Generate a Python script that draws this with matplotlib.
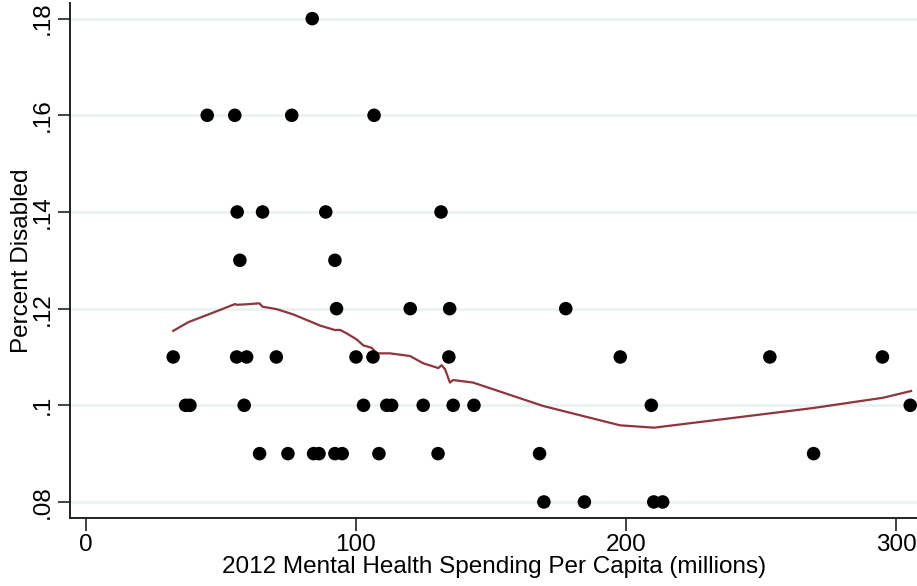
import matplotlib
matplotlib.use("Agg")
import matplotlib.pyplot as plt

plt.rcParams['font.family'] = ['Liberation Sans', 'DejaVu Sans']

# State-level observations: mental health spending per capita vs. share disabled
spending = [83.8,
            44.9, 55.1, 76.2, 106.7,
            56.0, 65.4, 88.8, 131.5,
            57.0, 92.2,
            92.8, 120.1, 134.7, 177.7,
            32.3, 55.8, 59.5, 70.5, 100.0, 106.3, 134.4, 197.9, 253.3, 295.0,
            36.9, 38.5, 58.6, 102.8, 111.4, 113.2, 124.9, 136.0, 143.7, 209.4, 305.3,
            64.3, 74.8, 84.3, 86.3, 92.2, 94.9, 108.5, 130.4, 168.0, 269.5,
            169.6, 184.6, 210.3, 213.6]
disabled = [0.18,
            0.16, 0.16, 0.16, 0.16,
            0.14, 0.14, 0.14, 0.14,
            0.13, 0.13,
            0.12, 0.12, 0.12, 0.12,
            0.11, 0.11, 0.11, 0.11, 0.11, 0.11, 0.11, 0.11, 0.11, 0.11,
            0.10, 0.10, 0.10, 0.10, 0.10, 0.10, 0.10, 0.10, 0.10, 0.10, 0.10,
            0.09, 0.09, 0.09, 0.09, 0.09, 0.09, 0.09, 0.09, 0.09, 0.09,
            0.08, 0.08, 0.08, 0.08]

# Lowess smooth of disabled share on spending
smooth_x = [32.3, 37.9, 47.2, 55.2, 55.9, 59.5, 64.2, 65.4, 70.6, 76.8, 86.7,
            92.2, 94.1, 96.5, 100.2, 102.7, 105.8, 107.7, 112.6, 120.0,
            124.9, 130.5, 131.7, 133.0, 134.8, 136.0, 143.4, 169.4, 197.8,
            210.4, 269.4, 295.3, 305.6]
smooth_y = [0.1154, 0.1172, 0.1192, 0.12095, 0.1208, 0.1209, 0.1211, 0.1204,
            0.1199, 0.1188, 0.1165, 0.11557, 0.1156, 0.1149, 0.11365, 0.1124,
            0.1119, 0.11075, 0.11075, 0.1102, 0.1087, 0.1077, 0.1083, 0.10745,
            0.1047, 0.10523, 0.1047, 0.09985, 0.09586, 0.09537, 0.09944,
            0.10157, 0.10296]

x_ticks = [0, 100, 200, 300]
y_ticks = [0.08, 0.10, 0.12, 0.14, 0.16, 0.18]
y_tick_labels = ['.08', '.1', '.12', '.14', '.16', '.18']

FS = 17.5

fig = plt.figure(figsize=(9.17, 5.86), dpi=100)
ax = fig.add_axes([0.0767, 0.1166, 0.9233, 0.8778])

for yv in y_ticks:
    ax.axhline(yv, color='#eaf2f3', lw=2.0, zorder=0)

ax.scatter(spending, disabled, s=95, color='black', edgecolors='none', zorder=3)
ax.plot(smooth_x, smooth_y, color='#90353b', lw=1.6, zorder=2)

ax.set_xlim(-5.8, 307.8)
ax.set_ylim(0.07675, 0.18318)

ax.set_xticks(x_ticks)
ax.set_xticklabels([str(v) for v in x_ticks])
ax.set_yticks(y_ticks)
ax.set_yticklabels(y_tick_labels, rotation=90, va='center')

ax.tick_params(axis='both', direction='out', length=9, width=1.3,
               color='#333333', labelsize=FS, labelcolor='black', pad=3)

for side in ('top', 'right'):
    ax.spines[side].set_visible(False)
for side in ('left', 'bottom'):
    ax.spines[side].set_color('#222222')
    ax.spines[side].set_linewidth(1.4)

ax.set_xlabel('2012 Mental Health Spending Per Capita (millions)', fontsize=FS, labelpad=0)
ax.set_ylabel('Percent Disabled', fontsize=FS)
ax.yaxis.set_label_coords(-0.044, 0.5)

fig.savefig('out.png', dpi=100)
